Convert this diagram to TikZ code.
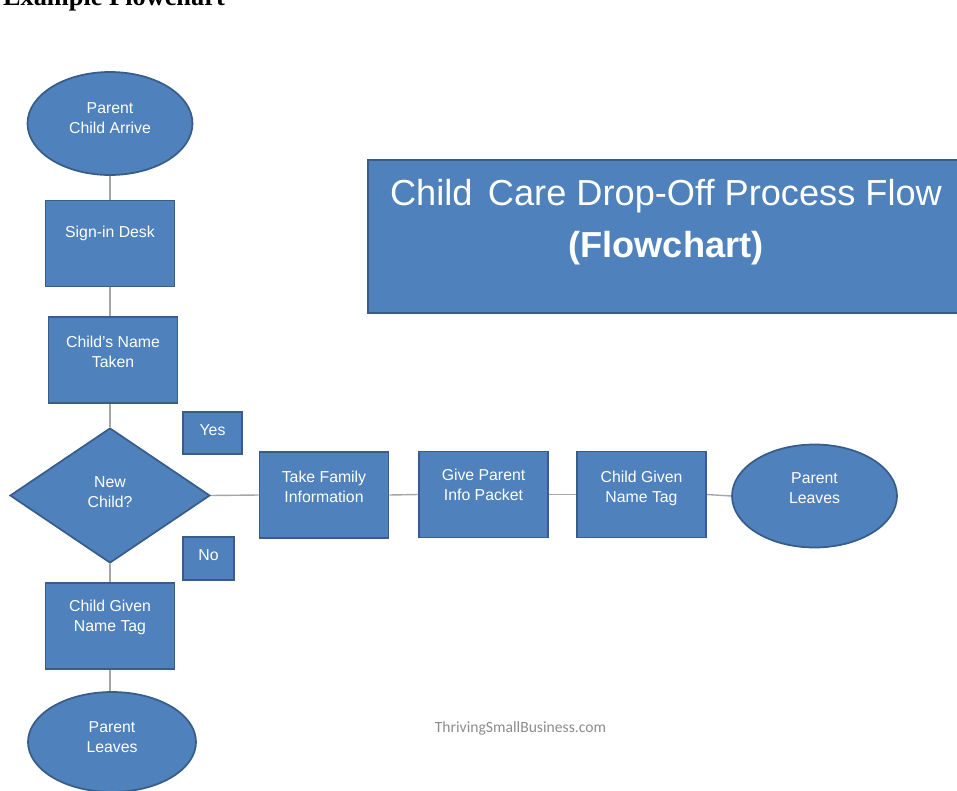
\documentclass[tikz,border=0pt]{standalone}
\usepackage{fontspec}
\setmainfont{Liberation Sans}
\newfontfamily\headfont{Liberation Serif}
\newfontfamily\sitefont{Carlito}
\usetikzlibrary{shapes.geometric}

\definecolor{boxblue}{HTML}{4F81BD}
\definecolor{boxedge}{HTML}{385D8A}
\definecolor{linkgray}{HTML}{A6A6A6}
\definecolor{sitegray}{HTML}{8C8C8C}

\begin{document}
\begin{tikzpicture}[x=0.02cm, y=-0.02cm,
    shape base/.style={draw=boxedge, fill=boxblue, line width=1pt, text=white,
        align=center, inner sep=0pt, text height=6.4pt,
        font=\fontsize{9}{11.4}\selectfont},
    two lines/.style={text height=17.8pt},
    block/.style={shape base, two lines, rectangle, minimum width=2.58cm, minimum height=1.72cm},
    terminal/.style={shape base, two lines, ellipse, minimum width=3.3cm, minimum height=2.06cm},
    decision/.style={shape base, two lines, diamond, minimum width=4cm, minimum height=2.7cm},
    tag/.style={shape base, rectangle, minimum height=0.85cm},
    lift/.style={text depth=#1},
    link/.style={draw=linkgray, line width=0.8pt}]

\useasboundingbox (0,0) rectangle (957,791);

% heading cut by the top edge
\node[anchor=base east, font=\headfont\bfseries\fontsize{15}{16}\selectfont]
    (heading) at (231,6) {Example Flowchart};

% left column
\node[terminal, lift=0.24cm] (arrive) at (110,123.5) {Parent\\Child Arrive};
\node[block, text height=6.4pt, lift=0.46cm] (signin) at (110,243.5) {Sign-in Desk};
\node[block, lift=0.32cm] (nametaken) at (113,360) {Child's Name\\Taken};
\node[decision, lift=0.16cm] (newchild) at (110,495.5) {New\\Child?};
\node[block, lift=0.40cm] (tagdown) at (110,626) {Child Given\\Name Tag};
\node[terminal, lift=0.20cm, minimum width=3.36cm, minimum height=2cm] (leavedown) at (112,742) {Parent\\Leaves};

% yes / no labels
\node[tag, lift=0.12cm, minimum width=1.18cm] (yes) at (212.5,433) {Yes};
\node[tag, lift=0.16cm, minimum width=1.02cm] (no) at (208.5,558.5) {No};

% right row
\node[block, lift=0.34cm] (family) at (324,495) {Take Family\\Information};
\node[block, lift=0.38cm] (packet) at (483.5,494.5) {Give Parent\\Info Packet};
\node[block, lift=0.30cm] (tagright) at (641.5,494.5) {Child Given\\Name Tag};
\node[terminal, lift=0.32cm] (leaveright) at (814.5,496) {Parent\\Leaves};

% title box
\node[shape base, rectangle, minimum width=11.92cm, minimum height=3.06cm,
    text height=44.8pt, lift=0.72cm, font=\fontsize{20.6}{30}\selectfont]
    (title) at (666,236.5) {Child\hspace{0.15em} Care Drop-Off Process Flow\\\textbf{(Flowchart)}};

% site name
\node[text=sitegray, font=\sitefont\fontsize{8.9}{10}\selectfont] (site) at (520.5,728) {ThrivingSmallBusiness.com};

% draw connectors
\draw[link] (arrive.south) -- (arrive.south |- signin.north);
\draw[link] (signin.south) -- (signin.south |- nametaken.north);
\draw[link] (newchild.north |- nametaken.south) -- (newchild.north);
\draw[link] (newchild.south) -- (tagdown.north);
\draw[link] (tagdown.south) -- (tagdown.south |- leavedown.north);
\draw[link] (newchild.east) -- (family.west);
\draw[link] (family.east) -- (packet.west);
\draw[link] (packet.east) -- (tagright.west);
\draw[link] (tagright.east) -- (leaveright.west);

\end{tikzpicture}
\end{document}
